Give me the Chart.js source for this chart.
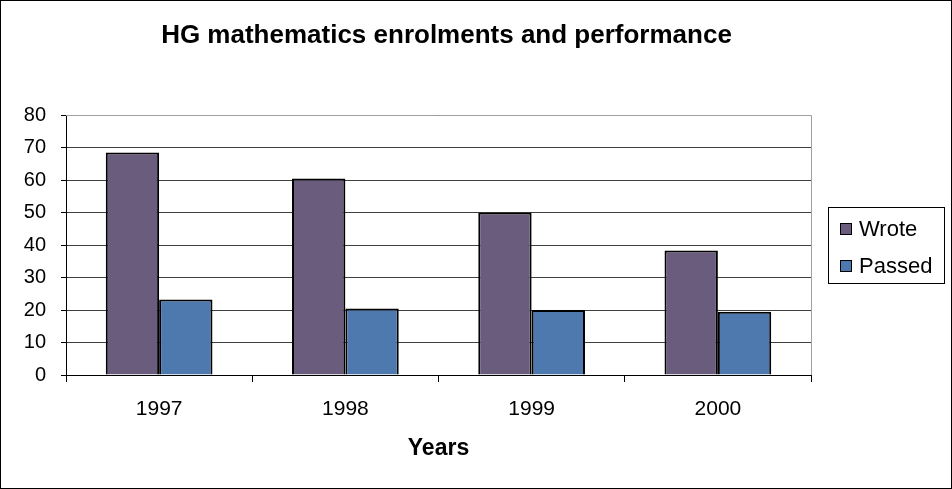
<!DOCTYPE html>
<html>
<head>
<meta charset="utf-8">
<title>HG mathematics enrolments and performance</title>
<script src="https://cdn.jsdelivr.net/npm/chart.js@4.4.1/dist/chart.umd.min.js"></script>
<style>
    html, body { margin: 0; padding: 0; background: #fff; }
    .chart-box {
        width: 952px;
        height: 489px;
        box-sizing: border-box;
        border: 1px solid #000;
    }
    canvas { display: block; }
</style>
</head>
<body>

<div class="chart-box">
    <canvas id="mathChart" width="950" height="487"></canvas>
</div>

<script>

/* =========================
   DATA
========================= */

const years = ["1997", "1998", "1999", "2000"];

const wrote = [68.5, 60.5, 50, 38.3];

const passed = [23.2, 20.5, 20, 19.5];

const yTicks = [0, 10, 20, 30, 40, 50, 60, 70, 80];

const FONT = "'Liberation Sans', Arial, sans-serif";

/* =========================
   TITLE + LEGEND (drawn by hand)
========================= */

const framePlugin = {

    id: "framePlugin",

    afterDraw(chart){

        const ctx = chart.ctx;
        const area = chart.chartArea;

        ctx.save();

        /* plot border top + right */
        ctx.strokeStyle = "#a0a0a0";
        ctx.lineWidth = 1;
        ctx.beginPath();
        ctx.moveTo(area.left, area.top + 0.5);
        ctx.lineTo(area.right + 0.5, area.top + 0.5);
        ctx.lineTo(area.right + 0.5, area.bottom);
        ctx.stroke();

        /* title */
        ctx.fillStyle = "#000";
        ctx.font = "bold 26px " + FONT;
        ctx.textAlign = "center";
        ctx.textBaseline = "middle";
        ctx.fillText(
            "HG mathematics enrolments and performance",
            (area.left + area.right) / 2 + 8,
            35
        );

        /* legend */
        const lx = area.right + 17;
        const ly = 206;

        ctx.strokeStyle = "#000";
        ctx.strokeRect(lx + 0.5, ly + 0.5, 116, 76);

        ctx.font = "22px " + FONT;
        ctx.textAlign = "left";

        chart.data.datasets.forEach((ds, i) => {

            const cy = ly + 22 + i * 37;

            ctx.fillStyle = ds.backgroundColor;
            ctx.fillRect(lx + 12, cy - 6, 11, 11);
            ctx.strokeRect(lx + 12.5, cy - 5.5, 11, 11);

            ctx.fillStyle = "#000";
            ctx.fillText(ds.label, lx + 31, cy + 1);

        });

        ctx.restore();

    }

};

/* =========================
   CHART
========================= */

new Chart(document.getElementById("mathChart"), {

    type: "bar",

    data: {

        labels: years,

        datasets: [
            {
                label: "Wrote",
                data: wrote,
                backgroundColor: "#695c7c",
                borderColor: "#000",
                borderWidth: 2
            },
            {
                label: "Passed",
                data: passed,
                backgroundColor: "#4e79ae",
                borderColor: "#000",
                borderWidth: 2
            }
        ]

    },

    options: {

        responsive: false,
        animation: false,
        devicePixelRatio: 1,

        layout: {
            padding: { top: 114, right: 140, left: 0, bottom: 0 }
        },

        datasets: {
            bar: {
                categoryPercentage: 0.573,
                barPercentage: 1
            }
        },

        plugins: {
            legend: { display: false },
            title: { display: false },
            tooltip: { enabled: false }
        },

        scales: {

            x: {
                grid: {
                    offset: true,
                    drawOnChartArea: false,
                    color: "#000",
                    tickLength: 7,
                    tickColor: "#000"
                },
                border: { color: "#000" },
                ticks: {
                    color: "#000",
                    padding: 15,
                    font: { family: FONT, size: 21 }
                },
                title: {
                    display: true,
                    text: "Years",
                    color: "#000",
                    font: { family: FONT, size: 23, weight: "bold" },
                    padding: { top: 0, bottom: 26 }
                },
                afterFit(scale){
                    scale.height = 113;
                }
            },

            y: {
                min: 0,
                max: 80,
                afterBuildTicks(scale){
                    scale.ticks = yTicks.map(v => ({ value: v }));
                },
                grid: {
                    color: "#404040",
                    tickLength: 5,
                    tickColor: "#000"
                },
                border: { color: "#000" },
                ticks: {
                    color: "#000",
                    padding: 15,
                    font: { family: FONT, size: 20 }
                },
                afterFit(scale){
                    scale.width = 65;
                }
            }

        }

    },

    plugins: [framePlugin]

});

</script>

</body>
</html>
